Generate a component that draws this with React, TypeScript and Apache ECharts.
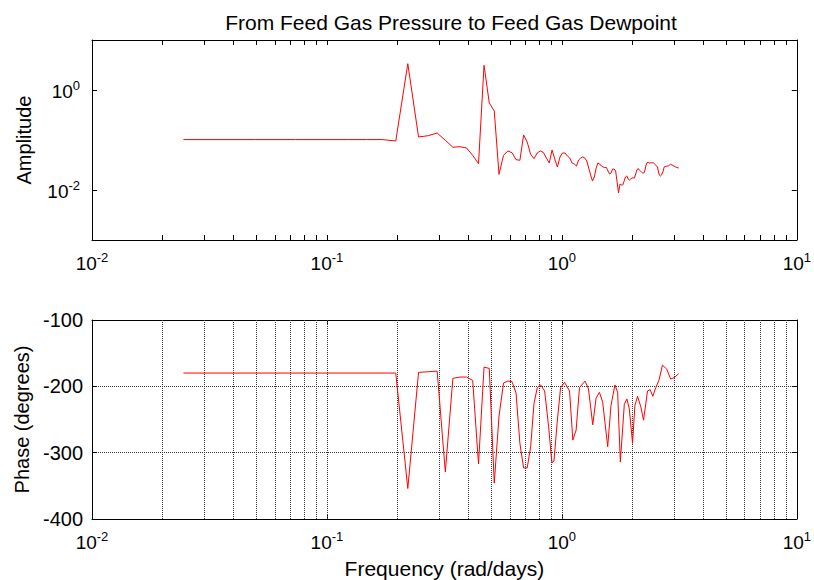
import React, { useEffect, useRef } from 'react';
import * as echarts from 'echarts';

// Frequency (rad/days) and amplitude
const ampFreq = [0.0245, 0.0491, 0.0736, 0.0982, 0.1227, 0.1473, 0.1718, 0.1963, 0.2209, 0.2454, 0.2700, 0.2945, 0.3191, 0.3436, 0.3682, 0.3927, 0.4172, 0.4418, 0.4663, 0.4909, 0.5154, 0.5400, 0.5645, 0.5890, 0.6136, 0.6381, 0.6627, 0.6872, 0.7118, 0.7363, 0.7609, 0.7854, 0.8099, 0.8345, 0.8590, 0.8836, 0.9081, 0.9327, 0.9572, 0.9817, 1.0063, 1.0308, 1.0554, 1.0799, 1.1045, 1.1290, 1.1536, 1.1781, 1.2026, 1.2272, 1.2517, 1.2763, 1.3008, 1.3254, 1.3499, 1.3744, 1.3990, 1.4235, 1.4481, 1.4726, 1.4972, 1.5217, 1.5463, 1.5708, 1.5953, 1.6199, 1.6444, 1.6690, 1.6935, 1.7181, 1.7426, 1.7671, 1.7917, 1.8162, 1.8408, 1.8653, 1.8899, 1.9144, 1.9390, 1.9635, 1.9880, 2.0126, 2.0371, 2.0617, 2.0862, 2.1108, 2.1353, 2.1598, 2.1844, 2.2089, 2.2335, 2.2580, 2.2826, 2.3071, 2.3317, 2.3562, 2.4544, 2.5525, 2.5770, 2.6016, 2.6261, 2.6507, 2.6998, 2.7243, 2.7489, 2.8471, 2.8962, 2.9452, 3.0434, 3.1416];
const ampValue = [0.102, 0.102, 0.102, 0.102, 0.102, 0.102, 0.102, 0.0955, 3.36, 0.115, 0.122, 0.138, 0.0986, 0.0715, 0.0735, 0.0692, 0.0494, 0.0336, 3.12, 0.55, 0.38, 0.0206, 0.0494, 0.0603, 0.0557, 0.0404, 0.0393, 0.126, 0.0912, 0.0518, 0.0423, 0.055, 0.0603, 0.0562, 0.0437, 0.0347, 0.063, 0.0417, 0.0288, 0.0457, 0.055, 0.055, 0.0479, 0.0437, 0.0347, 0.0331, 0.0302, 0.0398, 0.0437, 0.0457, 0.0437, 0.038, 0.0275, 0.020, 0.0151, 0.0182, 0.0275, 0.0347, 0.0331, 0.0302, 0.0288, 0.0282, 0.0282, 0.024, 0.0209, 0.0219, 0.0263, 0.0263, 0.024, 0.0145, 0.0087, 0.0132, 0.0126, 0.0126, 0.0151, 0.0182, 0.0191, 0.0166, 0.0158, 0.0166, 0.0174, 0.0174, 0.0174, 0.0209, 0.0251, 0.0269, 0.0251, 0.024, 0.0229, 0.0219, 0.0219, 0.0251, 0.0316, 0.0355, 0.0355, 0.0347, 0.035, 0.0288, 0.0229, 0.0197, 0.019, 0.0197, 0.024, 0.0288, 0.0296, 0.0305, 0.0327, 0.0316, 0.029, 0.0275];

// Frequency (rad/days) and phase (degrees)
const phaseFreq = [0.0245, 0.1963, 0.2209, 0.2454, 0.2700, 0.2945, 0.3191, 0.3436, 0.3682, 0.3927, 0.4172, 0.4418, 0.4663, 0.4909, 0.5154, 0.5400, 0.5645, 0.5890, 0.6136, 0.6381, 0.6627, 0.6872, 0.7118, 0.7363, 0.7609, 0.7857, 0.8122, 0.8448, 0.8781, 0.9071, 0.9251, 0.9552, 0.9874, 1.0266, 1.0779, 1.1132, 1.1497, 1.1885, 1.2553, 1.2976, 1.3534, 1.3975, 1.4446, 1.4920, 1.5667, 1.6180, 1.6823, 1.7274, 1.7734, 1.8441, 1.8914, 1.9363, 1.9994, 2.0450, 2.0994, 2.1683, 2.2264, 2.3148, 2.3763, 2.4378, 2.5097, 2.5942, 2.6792, 2.7938, 2.9048, 3.0028, 3.1416];
const phaseValue = [-180, -180, -354, -179, -178, -177, -329, -188, -186, -186, -191, -317, -171, -173, -346, -245, -195, -192, -193, -210, -286, -323, -323, -291, -226, -202, -198, -207, -261, -315, -313, -254, -202, -194, -207, -281, -266, -202, -192, -204, -258, -218, -209, -224, -291, -229, -198, -209, -314, -227, -219, -234, -286, -229, -215, -231, -251, -207, -205, -215, -202, -190, -168, -174, -189, -187, -181];

// Axis ticks
const minorFreqs = [0.02, 0.03, 0.04, 0.05, 0.06, 0.07, 0.08, 0.09, 0.2, 0.3, 0.4, 0.5, 0.6, 0.7, 0.8, 0.9, 2, 3, 4, 5, 6, 7, 8, 9];
const majorFreqs = [0.1, 1];
const ampTicks = [0.01, 1];

const FONT = '"Liberation Sans", Arial, sans-serif';
const BLACK = '#000000';
const RED = '#ff0000';

const X_MIN = 0.01, X_MAX = 10;
const A_MIN = 0.001, A_MAX = 10;
const P_MIN = -400, P_MAX = -100;

const TICK_Y_FACTOR = Math.pow(10, 0.1);   // ~5px in the upper plot's y
const TICK_X_FACTOR = Math.pow(10, 0.0215); // ~5px in x

const rich = {
  b: { fontSize: 19, fontFamily: FONT, color: BLACK, verticalAlign: 'bottom' },
  s: { fontSize: 13, fontFamily: FONT, color: BLACK, verticalAlign: 'bottom', padding: [0, 0, 9, 0] },
};

function powLabel(v: number): string {
  const e = Math.round(Math.log10(v));
  return `{b|10}{s|${e}}`;
}

export default function App() {
  const ref = useRef<HTMLDivElement>(null);

  useEffect(() => {
    if (!ref.current) return;
    const chart = echarts.init(ref.current, null, { renderer: 'svg' });

    const topMarks: any[] = [];
    minorFreqs.forEach((f) => {
      topMarks.push([{ coord: [f, A_MIN] }, { coord: [f, A_MIN * TICK_Y_FACTOR] }]);
      topMarks.push([{ coord: [f, A_MAX / TICK_Y_FACTOR] }, { coord: [f, A_MAX] }]);
    });
    ampTicks.forEach((a) => {
      topMarks.push([{ coord: [X_MIN, a] }, { coord: [X_MIN * TICK_X_FACTOR, a] }]);
      topMarks.push([{ coord: [X_MAX / TICK_X_FACTOR, a] }, { coord: [X_MAX, a] }]);
    });

    const bottomMarks = [...minorFreqs, ...majorFreqs].map((f) => ({ xAxis: f }));

    const xBase = (gridIndex: number, position: 'top' | 'bottom', withLabel: boolean) => ({
      type: 'log',
      logBase: 10,
      gridIndex,
      position,
      min: X_MIN,
      max: X_MAX,
      axisLine: { show: true, onZero: false, lineStyle: { color: BLACK, width: 1 } },
      axisTick: { show: true, inside: true, length: 5, lineStyle: { color: BLACK } },
      axisLabel: withLabel
        ? { show: true, margin: 11, formatter: powLabel, rich, color: BLACK }
        : { show: false },
      splitLine: { show: false },
    });

    const gridDash = { color: '#333333', width: 1, type: [1, 1] };

    const option: any = {
      animation: false,
      backgroundColor: '#ffffff',
      title: {
        text: 'From Feed Gas Pressure to Feed Gas Dewpoint',
        left: 446,
        top: 7,
        textAlign: 'center',
        textStyle: { fontFamily: FONT, fontSize: 21, fontWeight: 'normal', color: BLACK },
      },
      grid: [
        { left: 92, right: 14, top: 40, height: 200 },
        { left: 92, right: 14, top: 320, height: 200 },
      ],
      xAxis: [
        xBase(0, 'bottom', true),
        xBase(0, 'top', false),
        {
          ...xBase(1, 'bottom', true),
          name: 'Frequency (rad/days)',
          nameLocation: 'middle',
          nameGap: 39,
          nameTextStyle: { fontFamily: FONT, fontSize: 21, color: BLACK },
        },
        xBase(1, 'top', false),
      ],
      yAxis: [
        {
          type: 'log',
          logBase: 10,
          gridIndex: 0,
          position: 'left',
          min: A_MIN,
          max: A_MAX,
          interval: 1,
          name: 'Amplitude',
          nameLocation: 'middle',
          nameGap: 58,
          nameTextStyle: { fontFamily: FONT, fontSize: 20, color: BLACK },
          axisLine: { show: true, lineStyle: { color: BLACK, width: 1 } },
          axisTick: { show: false },
          axisLabel: {
            show: true,
            margin: 12,
            rich,
            color: BLACK,
            formatter: (v: number) => {
              const e = Math.round(Math.log10(v));
              return e % 2 === 0 ? powLabel(v) : '';
            },
          },
          splitLine: { show: false },
        },
        {
          type: 'log',
          logBase: 10,
          gridIndex: 0,
          position: 'right',
          min: A_MIN,
          max: A_MAX,
          interval: 1,
          axisLine: { show: true, lineStyle: { color: BLACK, width: 1 } },
          axisTick: { show: false },
          axisLabel: { show: false },
          splitLine: { show: false },
        },
        {
          type: 'value',
          gridIndex: 1,
          position: 'left',
          min: P_MIN,
          max: P_MAX,
          interval: 100,
          name: 'Phase (degrees)',
          nameLocation: 'middle',
          nameGap: 59,
          nameTextStyle: { fontFamily: FONT, fontSize: 20, color: BLACK },
          axisLine: { show: true, onZero: false, lineStyle: { color: BLACK, width: 1 } },
          axisTick: { show: true, inside: true, length: 5, lineStyle: { color: BLACK } },
          axisLabel: { show: true, margin: 9, fontFamily: FONT, fontSize: 20, color: BLACK },
          splitLine: { show: true, lineStyle: gridDash },
        },
        {
          type: 'value',
          gridIndex: 1,
          position: 'right',
          min: P_MIN,
          max: P_MAX,
          interval: 100,
          axisLine: { show: true, onZero: false, lineStyle: { color: BLACK, width: 1 } },
          axisTick: { show: true, inside: true, length: 5, lineStyle: { color: BLACK } },
          axisLabel: { show: false },
          splitLine: { show: false },
        },
      ],
      series: [
        {
          type: 'line',
          xAxisIndex: 0,
          yAxisIndex: 0,
          symbol: 'none',
          showSymbol: false,
          lineStyle: { color: RED, width: 1 },
          itemStyle: { color: RED },
          data: ampFreq.map((f, i) => [f, ampValue[i]]),
          markLine: {
            silent: true,
            symbol: ['none', 'none'],
            label: { show: false },
            emphasis: { disabled: true },
            lineStyle: { color: BLACK, width: 1, type: 'solid' },
            data: topMarks,
          },
        },
        {
          // vertical grid lines of the phase plot, drawn beneath the curve
          type: 'line',
          xAxisIndex: 2,
          yAxisIndex: 2,
          symbol: 'none',
          silent: true,
          z: 1,
          data: [],
          markLine: {
            silent: true,
            symbol: ['none', 'none'],
            label: { show: false },
            emphasis: { disabled: true },
            lineStyle: gridDash,
            data: bottomMarks,
          },
        },
        {
          type: 'line',
          xAxisIndex: 2,
          yAxisIndex: 2,
          symbol: 'none',
          showSymbol: false,
          z: 5,
          lineStyle: { color: RED, width: 1 },
          itemStyle: { color: RED },
          data: phaseFreq.map((f, i) => [f, phaseValue[i]]),
        },
      ],
    };

    chart.setOption(option);
    return () => chart.dispose();
  }, []);

  return (
    <div
      ref={ref}
      style={{ position: 'fixed', left: 0, top: 0, width: 814, height: 580, background: '#fff' }}
    />
  );
}
